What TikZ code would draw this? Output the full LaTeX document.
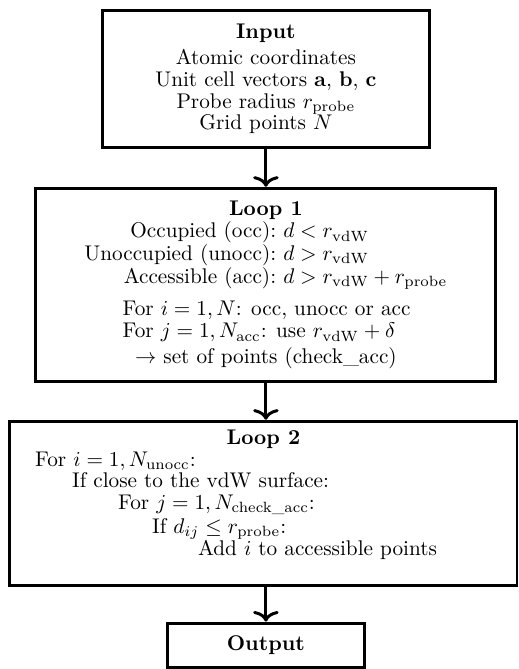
\documentclass[tikz,border=0pt]{standalone}
\usepackage{amsmath,amssymb}
\usetikzlibrary{arrows.meta}

\begin{document}
\begin{tikzpicture}[>={To[length=5pt,width=12pt]}, line width=1.4pt,
    box/.style={draw, line width=1.4pt, inner sep=0pt, align=center,
      font=\fontsize{10}{10.2}\selectfont}]
  \useasboundingbox (0,0) rectangle (8.58,-11.07);

  % Input
  \node (input) at (4.40,-1.31) [box, minimum width=5.42cm, minimum height=2.27cm]
    {\textbf{Input}\\[2pt]
     Atomic coordinates\\
     Unit cell vectors $\mathbf{a}$, $\mathbf{b}$, $\mathbf{c}$\\
     Probe radius $r_{\mathrm{probe}}$\\
     Grid points $N$};

  % Loop 1
  \node (loop1) at (4.40,-4.71) [box, minimum width=7.61cm, minimum height=3.19cm]
    {\renewcommand{\arraystretch}{1.045}%
     \begin{tabular}{@{}r@{:\ }l@{}}
       \multicolumn{2}{@{}c@{}}{\textbf{Loop 1}}\\
       Occupied (occ) & $d<r_{\mathrm{vdW}}$\\
       Unoccupied (unocc) & $d>r_{\mathrm{vdW}}$\\
       Accessible (acc) & $d>r_{\mathrm{vdW}}+r_{\mathrm{probe}}$\\[4.4pt]
       \multicolumn{2}{@{\hspace{18pt}}l@{}}{For $i=1,N$: occ, unocc or acc}\\
       \multicolumn{2}{@{\hspace{18pt}}l@{}}{For $j=1,N_{\mathrm{acc}}$: use $r_{\mathrm{vdW}}+\delta$}\\[1.2pt]
       \multicolumn{2}{@{}c@{}}{$\rightarrow$ set of points (check\_acc)}
     \end{tabular}};

  % Loop 2
  \node (loop2) at (4.36,-8.33) [box, minimum width=8.39cm, minimum height=2.72cm]
    {\begin{tabular}{@{}p{215pt}@{}}
       \multicolumn{1}{@{}c@{}}{\textbf{Loop 2}}\\
       For $i=1,N_{\mathrm{unocc}}$:\\
       \hspace*{17.4pt}If close to the vdW surface:\\
       \hspace*{39.1pt}For $j=1,N_{\text{check\_acc}}$:\\[1.2pt]
       \hspace*{55.1pt}If $d_{ij}\le r_{\mathrm{probe}}$:\\
       \hspace*{76.7pt}Add $i$ to accessible points\\[7.3pt]
     \end{tabular}};

  % Output
  \node (output) at (4.40,-10.68) [box, minimum width=3.25cm, minimum height=0.74cm]
    {\textbf{Output}};

  % Arrows
  \draw[->] (input.south) -- (loop1.north);
  \draw[->] (loop1.south) -- (loop1.south |- loop2.north);
  \draw[->] (loop2.south -| output.north) -- (output.north);
\end{tikzpicture}
\end{document}
